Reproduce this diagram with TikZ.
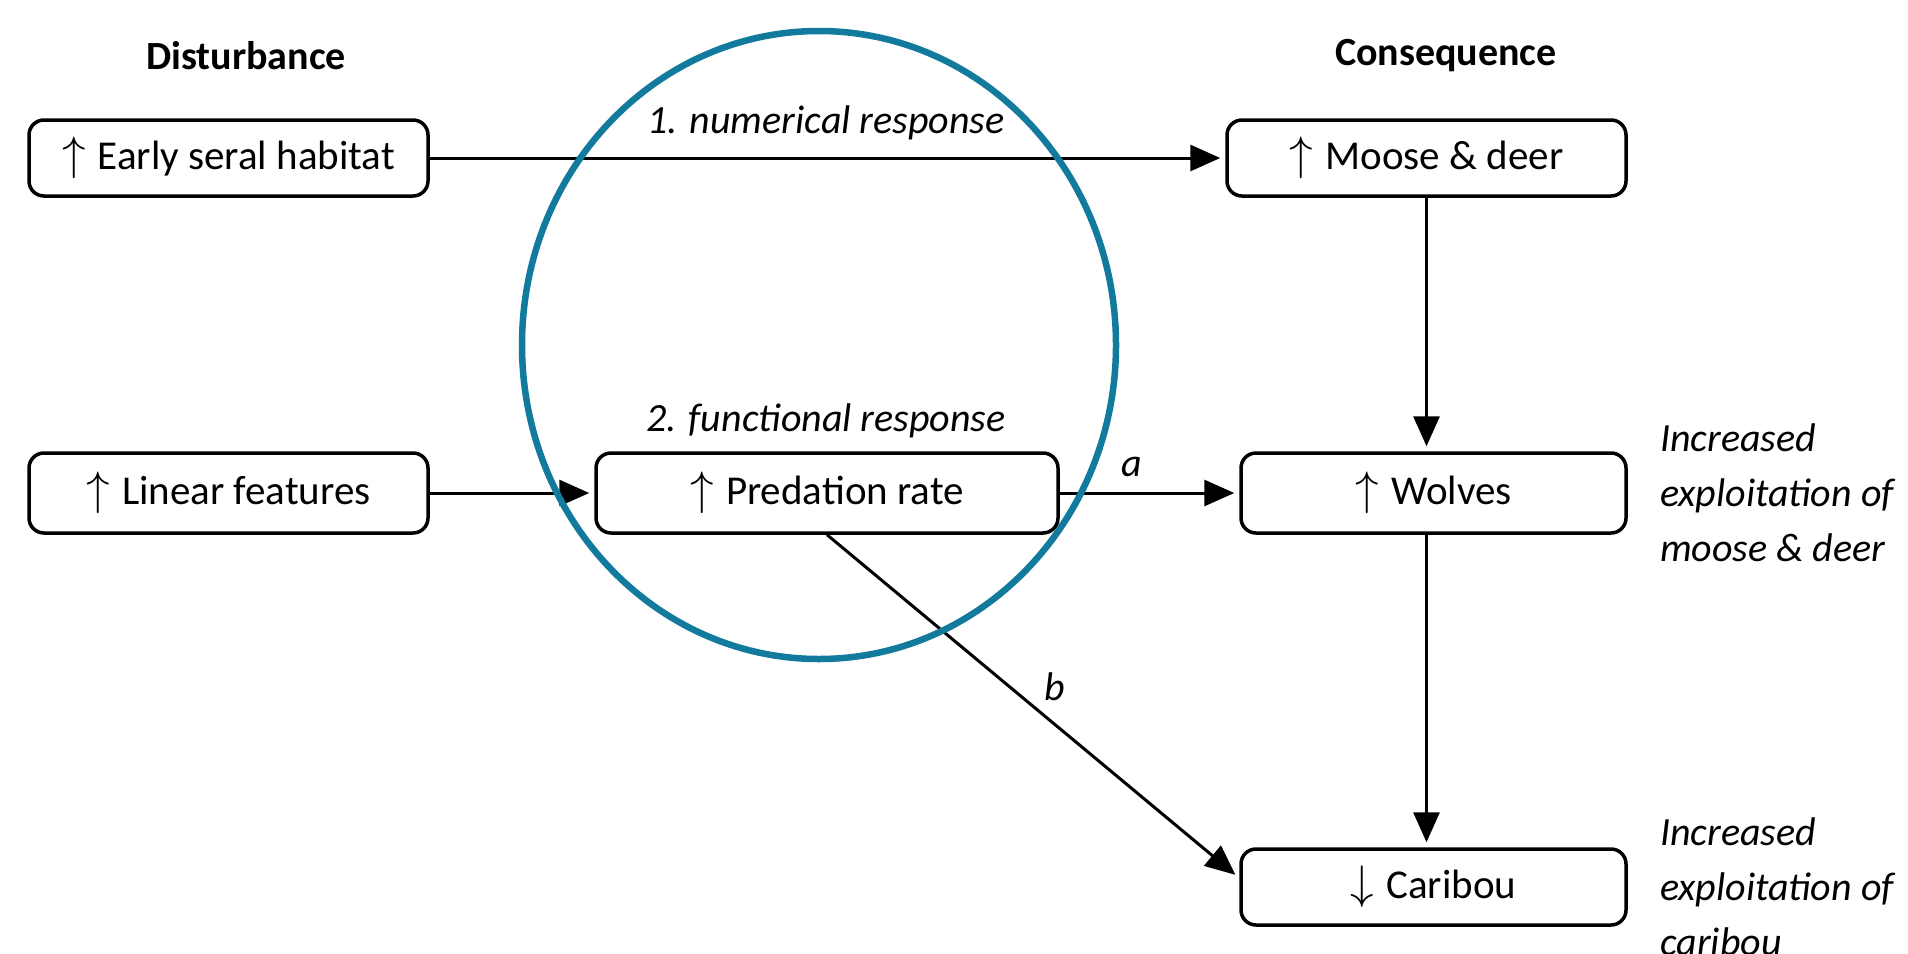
\documentclass[tikz,border=0pt]{standalone}
\usepackage{fix-cm}
\usepackage{fontspec}
\setmainfont{Carlito}
\usetikzlibrary{arrows.meta,calc}
\definecolor{ringblue}{RGB}{17,122,157}
\newcommand{\upar}{{\fontsize{47}{48}\selectfont$\uparrow$}\hspace{0.3em}}
\newcommand{\dnar}{{\fontsize{47}{48}\selectfont$\downarrow$}\hspace{0.3em}}
\begin{document}
\begin{tikzpicture}[x=1pt,y=-1pt,
  box/.style={draw=black,line width=3.5pt,rounded corners=15pt,fill=white,inner sep=0pt,
    font=\fontsize{41}{48}\selectfont,text=black},
  conn/.style={line width=3pt,-{Triangle[length=30pt,width=26pt]},shorten >=5pt},
  lbl/.style={font=\fontsize{40}{48}\selectfont\itshape,inner sep=0pt},
  head/.style={font=\fontsize{40}{48}\selectfont\bfseries,inner sep=0pt},
  side/.style={font=\fontsize{40}{55}\selectfont\itshape,align=left,anchor=west,inner sep=0pt}]
\useasboundingbox (0,0) rectangle (1908,953);
\fill[white] (0,0) rectangle (1908,953);

% headings
\node[head] (dist) at (246,56) {Disturbance};
\node[head] (cons) at (1446,56) {Consequence};

% boxes
\node[box,minimum width=399pt,minimum height=76pt] (early) at (228.5,158) {\upar Early seral habitat};
\node[box,minimum width=399pt,minimum height=76pt] (moose) at (1426.5,158) {\upar Moose \& deer};
\node[box,minimum width=399pt,minimum height=80pt] (linear) at (228.5,493) {\upar Linear features};
\node[box,minimum width=462pt,minimum height=80pt] (pred) at (827,493) {\upar Predation rate};
\node[box,minimum width=385pt,minimum height=80pt] (wolves) at (1433.5,493) {\upar Wolves};
\node[box,minimum width=385pt,minimum height=76pt] (caribou) at (1433.5,887) {\dnar Caribou};

% connectors
\draw[conn] (early.east) -- (moose.west);
\draw[conn] (linear.east) -- (pred.west);
\draw[conn] (pred.east) -- (wolves.west);
\draw[conn] (moose.south) -- (moose.south |- wolves.north);
\draw[conn] (moose.south |- wolves.south) -- (moose.south |- caribou.north);
\draw[conn] (pred.south) -- ($(caribou.west)+(0,-9)$);

% labels
\node[lbl] (numresp) at (826,123) {1. numerical response};
\node[lbl] (funresp) at (826,421) {2. functional response};
\node[lbl] (la) at (1132,467) {a};
\node[lbl] (lb) at (1055,687) {b};

\node[side] (side1) at (1660,493) {Increased\\exploitation of\\moose \& deer};
\node[side] (side2) at (1660,887) {Increased\\exploitation of\\caribou};

% ring
\draw[ringblue,line width=6.5pt] (819,345) ellipse [x radius=297pt, y radius=314pt];
\end{tikzpicture}
\end{document}
